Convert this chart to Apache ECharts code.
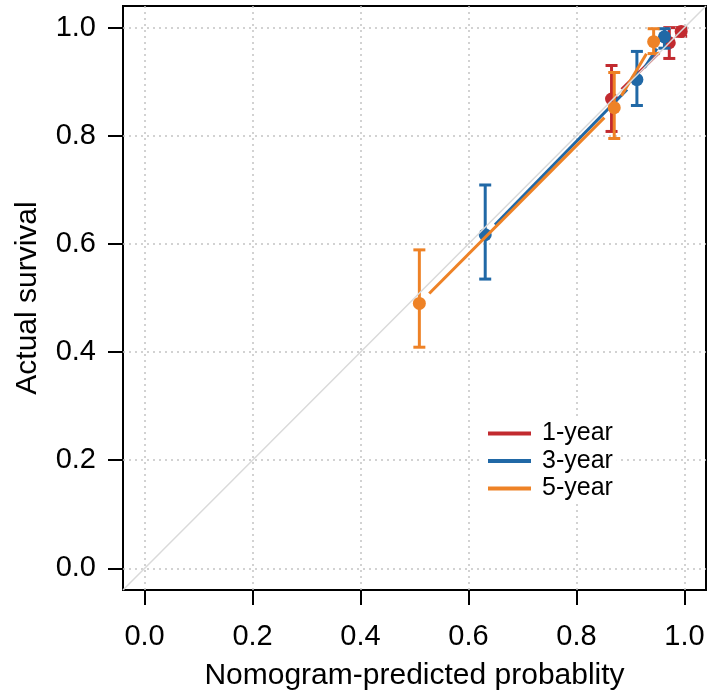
<!DOCTYPE html>
<html>
<head>
<meta charset="utf-8">
<script src="https://cdn.jsdelivr.net/npm/echarts@6/dist/echarts.min.js"></script>
<style>
  html, body { margin: 0; padding: 0; background: #fff; }
  #chart { width: 712px; height: 696px; }
</style>
</head>
<body>
<div id="chart"></div>
<script>
// tick positions shared by both axes
var ticks = [0, 0.2, 0.4, 0.6, 0.8, 1.0];

// calibration groups: [predicted, observed, lower CI, upper CI]
var year1 = [
  [0.865, 0.868, 0.808, 0.930],
  [0.972, 0.972, 0.943, 1.000],
  [0.994, 0.993, 0.984, 1.000]
];
var year3 = [
  [0.631, 0.617, 0.535, 0.709],
  [0.912, 0.904, 0.856, 0.956],
  [0.963, 0.983, 0.962, 0.998]
];
var year5 = [
  [0.509, 0.490, 0.409, 0.589],
  [0.870, 0.852, 0.795, 0.917],
  [0.943, 0.974, 0.952, 0.998]
];

var groups = [
  { name: '1-year', color: '#C22A2F', pts: year1 },
  { name: '3-year', color: '#2068A6', pts: year3 },
  { name: '5-year', color: '#EE8226', pts: year5 }
];

var FONT = '"Liberation Sans", Arial, Helvetica, sans-serif';

// R type="b": segments that stop short of the points
function segRender(color) {
  return function (params, api) {
    var a = api.coord([api.value(0), api.value(1)]);
    var b = api.coord([api.value(2), api.value(3)]);
    var dx = b[0] - a[0], dy = b[1] - a[1];
    var len = Math.sqrt(dx * dx + dy * dy);
    var gap = 14;
    if (len <= 2 * gap) return null;
    var ux = dx / len, uy = dy / len;
    return {
      type: 'line',
      shape: { x1: a[0] + ux * gap, y1: a[1] + uy * gap, x2: b[0] - ux * gap, y2: b[1] - uy * gap },
      style: { stroke: color, lineWidth: 3 }
    };
  };
}

function errRender(color) {
  return function (params, api) {
    var x = api.value(0);
    var lo = api.coord([x, api.value(2)]);
    var hi = api.coord([x, api.value(3)]);
    var h = 6;
    var st = { stroke: color, lineWidth: 3 };
    return {
      type: 'group',
      children: [
        { type: 'line', shape: { x1: lo[0], y1: lo[1], x2: hi[0], y2: hi[1] }, style: st },
        { type: 'line', shape: { x1: lo[0] - h, y1: lo[1], x2: lo[0] + h, y2: lo[1] }, style: st },
        { type: 'line', shape: { x1: hi[0] - h, y1: hi[1], x2: hi[0] + h, y2: hi[1] }, style: st }
      ]
    };
  };
}

var series = [];

// dotted grid at tick positions
series.push({
  type: 'line',
  data: [],
  silent: true,
  z: 1,
  markLine: {
    silent: true,
    symbol: 'none',
    animation: false,
    label: { show: false },
    lineStyle: { color: '#c4c4c4', width: 1.5, type: [2, 4] },
    data: ticks.map(function (t) { return { xAxis: t }; })
      .concat(ticks.map(function (t) { return { yAxis: t }; }))
  }
});

groups.forEach(function (g, gi) {
  var segs = [];
  for (var i = 0; i < g.pts.length - 1; i++) {
    segs.push([g.pts[i][0], g.pts[i][1], g.pts[i + 1][0], g.pts[i + 1][1]]);
  }
  series.push({
    type: 'custom',
    renderItem: segRender(g.color),
    data: segs,
    encode: { x: [0, 2], y: [1, 3] },
    z: 3 + gi * 3,
    silent: true
  });
  series.push({
    type: 'custom',
    renderItem: errRender(g.color),
    data: g.pts,
    encode: { x: 0, y: [2, 3] },
    z: 4 + gi * 3,
    silent: true
  });
  series.push({
    name: g.name,
    type: 'scatter',
    data: g.pts.map(function (p) { return [p[0], p[1]]; }),
    symbol: 'circle',
    symbolSize: 13,
    itemStyle: { color: g.color, opacity: 1 },
    z: 5 + gi * 3,
    silent: true
  });
});

// reference diagonal, drawn last
series.push({
  type: 'line',
  data: [[-0.04, -0.04], [1.04, 1.04]],
  symbol: 'none',
  lineStyle: { color: '#dadada', width: 1.5 },
  z: 20,
  silent: true
});

var chart = echarts.init(document.getElementById('chart'), null, { renderer: 'canvas' });
chart.setOption({
  animation: false,
  backgroundColor: '#fff',
  textStyle: { fontFamily: FONT },
  grid: {
    left: 123, right: 6, top: 6, bottom: 106,
    containLabel: false,
    outerBoundsMode: 'none',
    show: true, borderColor: '#000', borderWidth: 2, backgroundColor: 'transparent'
  },
  legend: {
    left: 482, top: 418,
    z: 50,
    orient: 'vertical',
    selectedMode: false,
    backgroundColor: '#fff',
    padding: [3, 4, 3, 6],
    itemGap: 2.5,
    itemWidth: 43,
    itemHeight: 4,
    icon: 'rect',
    textStyle: { fontFamily: FONT, fontSize: 25, color: '#000', padding: [0, 0, 0, 6], lineHeight: 24 },
    data: groups.map(function (g) { return { name: g.name, itemStyle: { color: g.color } }; })
  },
  xAxis: {
    type: 'value',
    min: -0.04, max: 1.04,
    name: 'Nomogram-predicted probablity',
    nameLocation: 'middle',
    nameGap: 71,
    nameTextStyle: { fontFamily: FONT, fontSize: 30, color: '#000' },
    axisLine: { show: true, onZero: false, lineStyle: { color: '#000', width: 2 } },
    axisTick: { show: true, customValues: ticks, length: 15, lineStyle: { color: '#000', width: 2 } },
    axisLabel: {
      customValues: ticks, margin: 32, fontSize: 29, color: '#000', fontFamily: FONT,
      formatter: function (v) { return v.toFixed(1); }
    },
    splitLine: { show: false }
  },
  yAxis: {
    type: 'value',
    min: -0.04, max: 1.04,
    name: 'Actual survival',
    nameLocation: 'middle',
    nameGap: 80,
    nameTextStyle: { fontFamily: FONT, fontSize: 30, color: '#000' },
    axisLine: { show: true, onZero: false, lineStyle: { color: '#000', width: 2 } },
    axisTick: { show: true, customValues: ticks, length: 15, lineStyle: { color: '#000', width: 2 } },
    axisLabel: {
      customValues: ticks, margin: 27, fontSize: 29, color: '#000', fontFamily: FONT,
      formatter: function (v) { return v.toFixed(1); }
    },
    splitLine: { show: false }
  },
  series: series
});
</script>
</body>
</html>
